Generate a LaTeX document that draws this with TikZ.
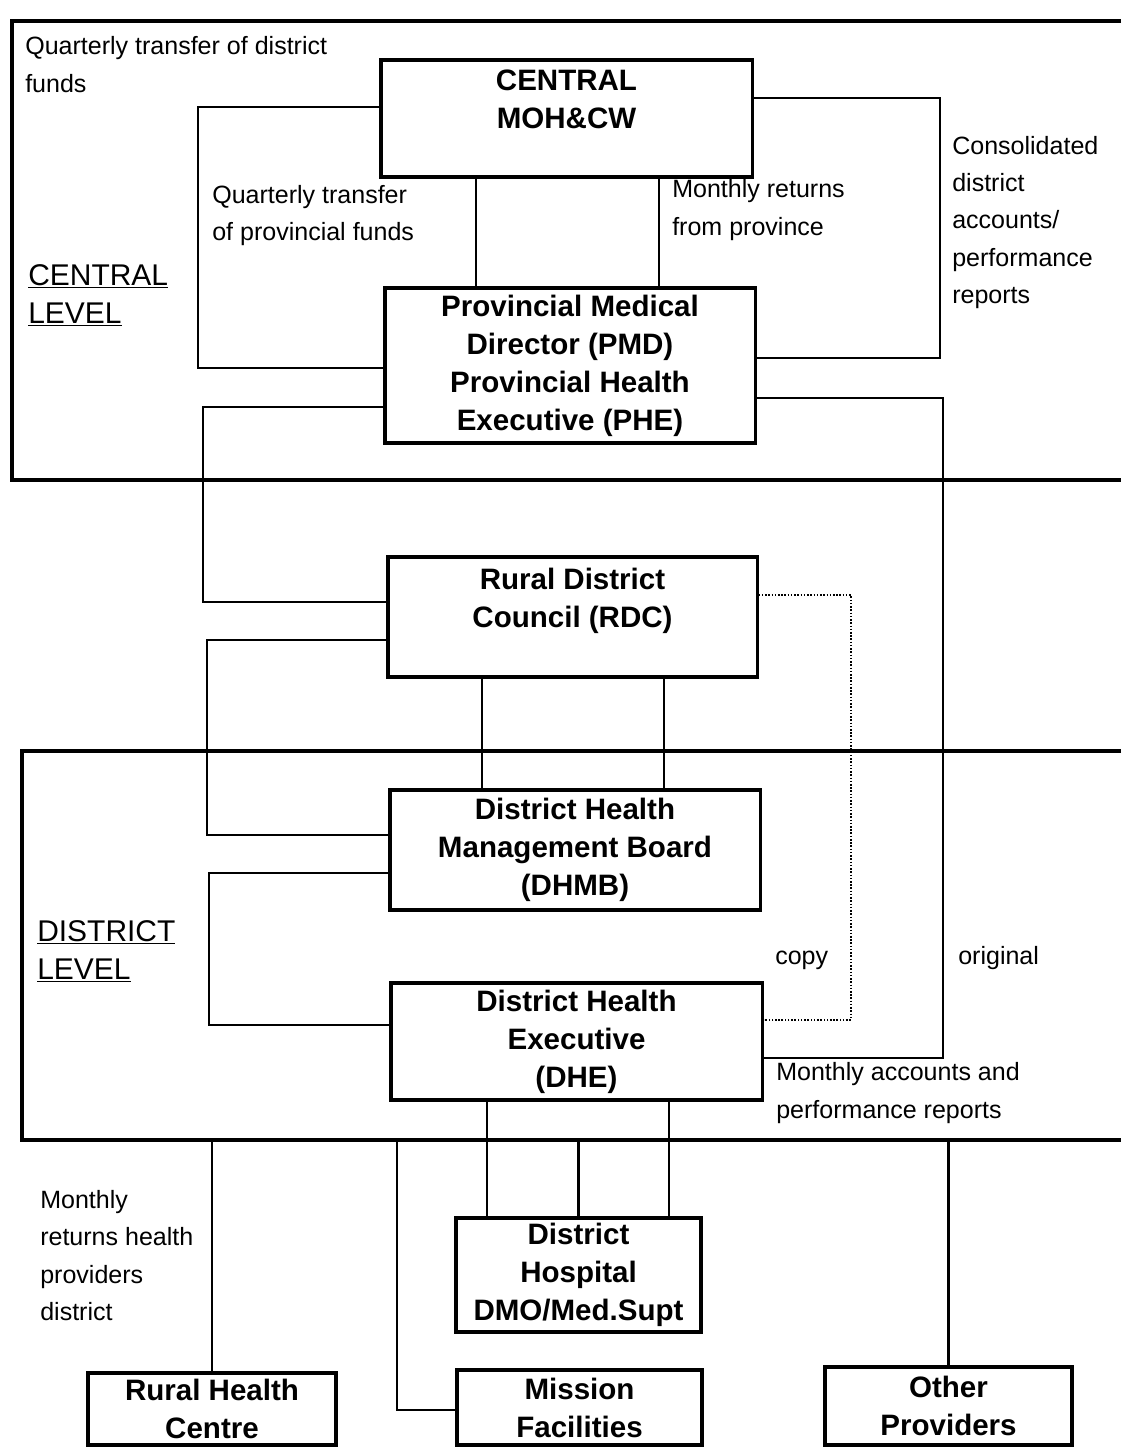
\documentclass[tikz,border=0pt]{standalone}
\usepackage{fontspec}
\setmainfont{Liberation Sans}

\begin{document}
\begin{tikzpicture}[x=0.025cm, y=-0.025cm,
        unit/.style={draw=black,line width=2.2pt,inner sep=0pt,align=center,font=\bfseries\fontsize{21}{27}\selectfont},
        note/.style={inner sep=0pt,anchor=west,align=left,font=\fontsize{17.8}{26.5}\selectfont},
        level/.style={inner sep=0pt,anchor=west,align=left,font=\fontsize{21.3}{27}\selectfont},
        link/.style={line width=1.6pt},
        copyline/.style={line width=1.8pt,dash pattern=on 1.1pt off 1.2pt},
        frame/.style={line width=2.4pt}]
        \useasboundingbox (0,0) rectangle (1121,1447);
        % the two levels
        \draw[frame] (1121,21) -- (12,21) -- (12,480) -- (1121,480);
        \draw[frame] (1121,751) -- (22,751) -- (22,1140) -- (1121,1140);
        \coordinate (dbot) at (0,1140);
        \node[unit,minimum width=9.275cm,minimum height=2.925cm] at (566.5,118.5) (moh) {CENTRAL\\MOH\&CW\\\mbox{}};
        \node[unit,minimum width=9.25cm,minimum height=3.875cm] at (570,365.5) (pmd) {Provincial Medical\\Director (PMD)\\Provincial Health\\Executive (PHE)};
        \node[unit,minimum width=9.225cm,minimum height=3cm] at (572.5,617) (rdc) {Rural District\\Council (RDC)\\\mbox{}};
        \node[unit,minimum width=9.25cm,minimum height=3cm] at (575,850) (dhmb) {District Health\\Management Board\\(DHMB)};
        \node[unit,minimum width=9.275cm,minimum height=2.925cm] at (576.5,1041.5) (dhe) {District Health\\Executive\\(DHE)};
        \node[unit,minimum width=6.125cm,minimum height=2.85cm] at (578.5,1275) (hosp) {District\\Hospital\\DMO/Med.Supt};
        \node[unit,minimum width=6.2cm,minimum height=1.8cm] at (212,1409) (rhc) {Rural Health\\Centre};
        \node[unit,minimum width=6.125cm,minimum height=1.875cm] at (579.5,1407.5) (miss) {Mission\\Facilities};
        \node[unit,minimum width=6.175cm,minimum height=1.95cm] at (948.5,1406) (other) {Other\\Providers};
        \node[note] at (25,64.5) (qdist) {Quarterly transfer of district\\funds};
        \node[note] at (212,215.5) (qprov) {Quarterly transfer\\of provincial funds};
        \node[note] at (672,210) (mprov) {Monthly returns\\from province};
        \node[note] at (952,222.5) (cons) {Consolidated\\district\\accounts/\\performance\\reports};
        \node[level] at (28,295) (clev) {\underline{CENTRAL}\\\underline{LEVEL}};
        \node[level] at (37,951) (dlev) {\underline{DISTRICT}\\\underline{LEVEL}};
        \node[note] at (775,960) (cp) {copy};
        \node[note] at (958,958) (orig) {original};
        \node[note] at (776,1093) (macc) {Monthly accounts and\\performance reports};
        \node[note] at (40,1255.5) (mret) {Monthly\\returns health\\providers\\district};
        % central level
        \draw[link] (moh.south -| 476,0) -- (pmd.north -| 476,0);
        \draw[link] (moh.south -| 659,0) -- (pmd.north -| 659,0);
        \draw[link] (moh.west |- 0,107) -| (198,368) -- (pmd.west |- 0,368);
        \draw[link] (moh.east |- 0,98) -| (940,358) -- (pmd.east |- 0,358);
        \draw[link] (pmd.west |- 0,407) -| (203,602) -- (rdc.west |- 0,602);
        \draw[link] (pmd.east |- 0,398) -| (943,1058) -- (dhe.east |- 0,1058);
        \draw[copyline] (rdc.east |- 0,595) -| (851,1020) -- (dhe.east |- 0,1020);
        % district level
        \draw[link] (rdc.south -| 482,0) -- (dhmb.north -| 482,0);
        \draw[link] (rdc.south -| 664,0) -- (dhmb.north -| 664,0);
        \draw[link] (rdc.west |- 0,640) -| (207,835) -- (dhmb.west |- 0,835);
        \draw[link] (dhmb.west |- 0,873) -| (209,1025) -- (dhe.west |- 0,1025);
        \draw[link] (dhe.south -| 487,0) -- (hosp.north -| 487,0);
        \draw[link] (dhe.south -| 669,0) -- (hosp.north -| 669,0);
        % providers
        \draw[link] (hosp.north) -- (hosp.north |- dbot);
        \draw[link] (rhc.north) -- (rhc.north |- dbot);
        \draw[link] (miss.west |- 0,1410) -| (dbot -| 397,0);
        \draw[link] (other.north) -- (other.north |- dbot);
\end{tikzpicture}
\end{document}
